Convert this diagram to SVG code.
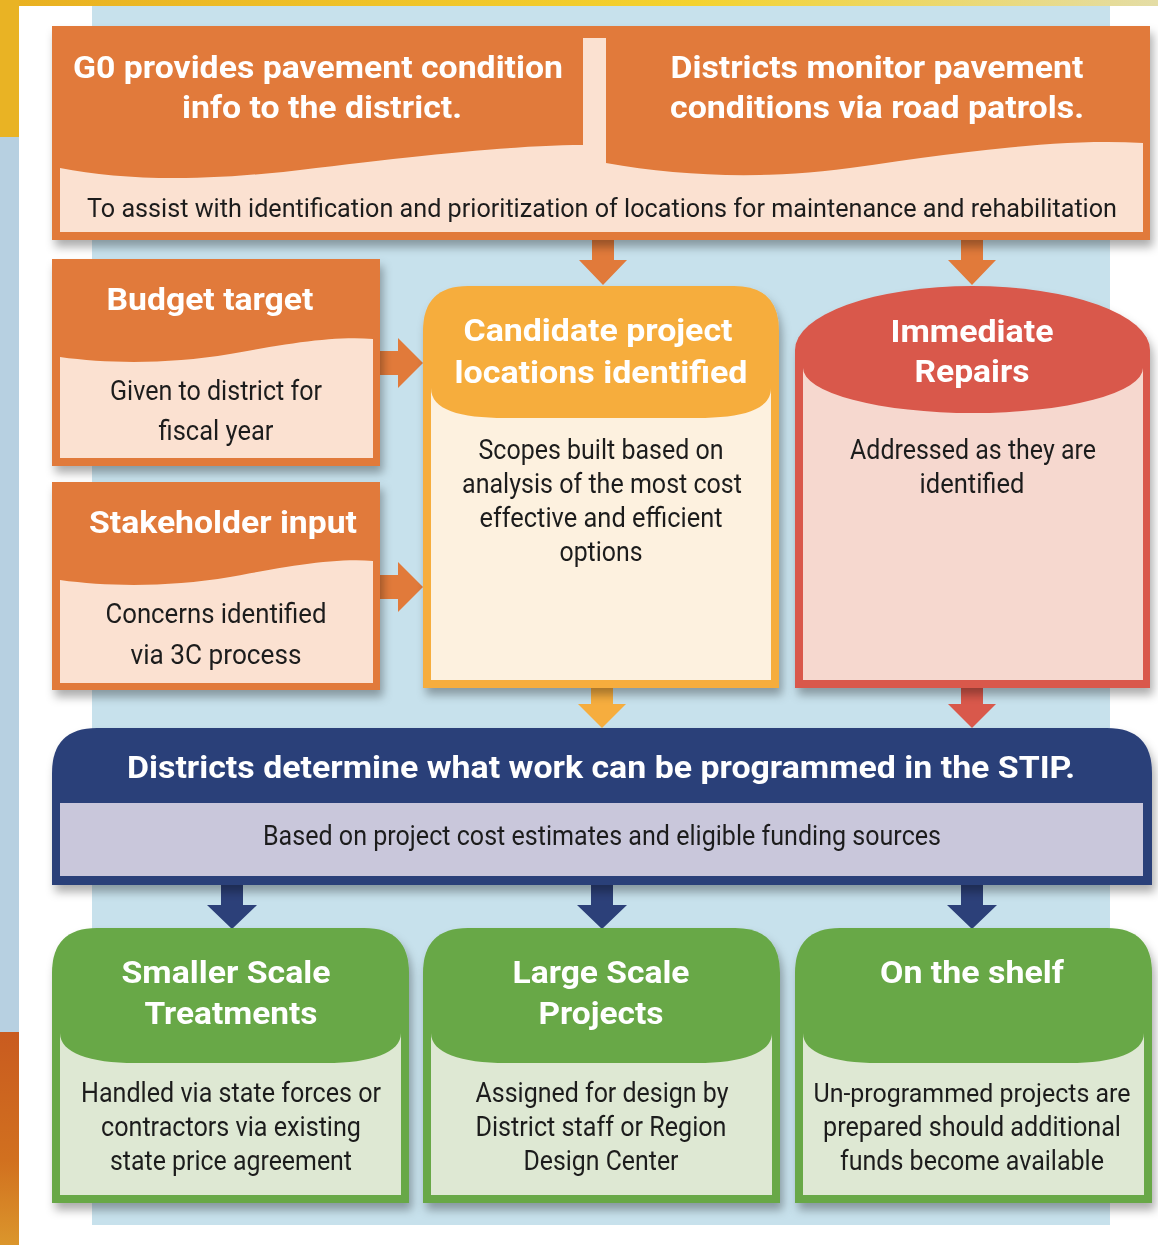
<svg xmlns="http://www.w3.org/2000/svg" width="1158" height="1245" viewBox="0 0 1158 1245">
<defs>
<linearGradient id="topband" x1="0" y1="0" x2="1" y2="0">
<stop offset="0" stop-color="#E9B021"/><stop offset="0.6" stop-color="#F4D22E"/><stop offset="1" stop-color="#E4DDA6"/>
</linearGradient>
<linearGradient id="orangeStrip" x1="0" y1="0" x2="0" y2="1">
<stop offset="0" stop-color="#C95B1F"/><stop offset="0.6" stop-color="#D1701F"/><stop offset="1" stop-color="#DB962C"/>
</linearGradient>
<filter id="sh" x="-10%" y="-10%" width="125%" height="130%">
<feDropShadow dx="3" dy="7" stdDeviation="5" flood-color="#000" flood-opacity="0.32"/>
</filter>
<style>
.ttl{font-family:Roboto,"Liberation Sans",sans-serif;font-weight:bold;font-size:31px;fill:#FFFFFF;text-anchor:middle}
.bd{font-family:Roboto,"Liberation Sans",sans-serif;font-size:27px;fill:#1E1E1E;text-anchor:middle}
.sm{font-size:25.5px}
.or{fill:#E17A3A}
.pe{fill:#FBE1D1}
.yo{fill:#F6AD3E}
.cr{fill:#FDF1DF}
.rd{fill:#D9584B}
.pk{fill:#F6D8CF}
.nv{fill:#2C4079}
.lv{fill:#C9C7DB}
.gr{fill:#68A846}
.lg{fill:#DEE8D3}
</style>
</defs>

<!-- background -->
<rect x="0" y="0" width="1158" height="1245" fill="#FFFFFF"/>
<rect x="0" y="0" width="1158" height="6" fill="url(#topband)"/>
<rect x="0" y="0" width="19" height="137" fill="#E9B324"/>
<rect x="0" y="137" width="19" height="895" fill="#B7D0E1"/>
<rect x="0" y="1032" width="19" height="213" fill="url(#orangeStrip)"/>
<rect x="92" y="6" width="1018" height="1219" fill="#C7E1EC"/>

<!-- connectors -->
<g id="connectors">
<polygon class="or" points="592,240 614,240 614,260 627,260 603,285 579,260 592,260"/>
<polygon class="or" points="961,240 983,240 983,260 996,260 972,285 948,260 961,260"/>
<polygon class="or" points="380,351 398,351 398,338 423,363 398,388 398,375 380,375"/>
<polygon class="or" points="380,575 398,575 398,562 423,587 398,612 398,599 380,599"/>
<polygon class="yo" points="591,688 613,688 613,704 626,704 602,728 578,704 591,704"/>
<polygon class="rd" points="961,688 983,688 983,704 996,704 972,728 948,704 961,704"/>
<polygon class="nv" points="221,885 243,885 243,905 257,905 232,929 207,905 221,905"/>
<polygon class="nv" points="591,885 613,885 613,905 627,905 602,929 577,905 591,905"/>
<polygon class="nv" points="961,885 983,885 983,905 997,905 972,929 947,905 961,905"/>
</g>

<!-- top box -->
<g id="top-box" filter="url(#sh)">
<rect class="or" x="52" y="26" width="1098" height="214"/>
<path class="pe" d="M60,168 C120,180 200,182 300,170 C420,155 520,145 583,145 L583,38 L606,38 L606,163 C680,176 760,180 850,168 C960,152 1060,138 1143,143 L1143,232 L60,232 Z"/>
<text class="ttl" x="318" y="78" textLength="490" lengthAdjust="spacingAndGlyphs">G0 provides pavement condition</text>
<text class="ttl" x="322" y="118" textLength="280" lengthAdjust="spacingAndGlyphs">info to the district.</text>
<text class="ttl" x="877" y="78" textLength="413" lengthAdjust="spacingAndGlyphs">Districts monitor pavement</text>
<text class="ttl" x="877" y="118" textLength="414" lengthAdjust="spacingAndGlyphs">conditions via road patrols.</text>
<text class="bd sm" x="602" y="217" textLength="1030" lengthAdjust="spacingAndGlyphs">To assist with identification and prioritization of locations for maintenance and rehabilitation</text>
</g>

<!-- budget target -->
<g id="budget-target" filter="url(#sh)">
<rect class="or" x="52" y="259" width="328" height="207"/>
<path class="pe" d="M60,357 C110,364 170,364 230,354 C290,343 335,336 373,339 L373,458 L60,458 Z"/>
<text class="ttl" x="210" y="310" textLength="207" lengthAdjust="spacingAndGlyphs">Budget target</text>
<text class="bd" x="216" y="400" textLength="212" lengthAdjust="spacingAndGlyphs">Given to district for</text>
<text class="bd" x="216" y="440" textLength="115" lengthAdjust="spacingAndGlyphs">fiscal year</text>
</g>

<!-- stakeholder input -->
<g id="stakeholder-input" filter="url(#sh)">
<rect class="or" x="52" y="482" width="328" height="208"/>
<path class="pe" d="M60,580 C110,587 170,587 230,577 C290,566 335,558 373,561 L373,683 L60,683 Z"/>
<text class="ttl" x="223" y="533" textLength="268" lengthAdjust="spacingAndGlyphs">Stakeholder input</text>
<text class="bd" x="216" y="623" textLength="221" lengthAdjust="spacingAndGlyphs">Concerns identified</text>
<text class="bd" x="216" y="664" textLength="171" lengthAdjust="spacingAndGlyphs">via 3C process</text>
</g>

<!-- candidate project locations -->
<g id="candidate-locations" filter="url(#sh)">
<path class="yo" d="M423,688 L423,331 Q423,286 468,286 L734,286 Q779,286 779,331 L779,688 Z"/>
<path class="cr" d="M431,680 L431,388 C431,410 460,418 505,418 L697,418 C742,418 771,410 771,388 L771,680 Z"/>
<text class="ttl" x="598" y="341" textLength="269" lengthAdjust="spacingAndGlyphs">Candidate project</text>
<text class="ttl" x="601" y="383" textLength="293" lengthAdjust="spacingAndGlyphs">locations identified</text>
<text class="bd" x="601" y="459" textLength="245" lengthAdjust="spacingAndGlyphs">Scopes built based on</text>
<text class="bd" x="602" y="493" textLength="280" lengthAdjust="spacingAndGlyphs">analysis of the most cost</text>
<text class="bd" x="601" y="527" textLength="243" lengthAdjust="spacingAndGlyphs">effective and efficient</text>
<text class="bd" x="601" y="561" textLength="83" lengthAdjust="spacingAndGlyphs">options</text>
</g>

<!-- immediate repairs -->
<g id="immediate-repairs" filter="url(#sh)">
<path class="rd" d="M795,688 L795,350 A177.5,64 0 0 1 1150,350 L1150,688 Z"/>
<path class="pk" d="M803,680 L803,368 A170,45 0 0 0 1143,368 L1143,680 Z"/>
<text class="ttl" x="972" y="342" textLength="163" lengthAdjust="spacingAndGlyphs">Immediate</text>
<text class="ttl" x="972" y="382" textLength="115" lengthAdjust="spacingAndGlyphs">Repairs</text>
<text class="bd" x="973" y="459" textLength="246" lengthAdjust="spacingAndGlyphs">Addressed as they are</text>
<text class="bd" x="972" y="493" textLength="105" lengthAdjust="spacingAndGlyphs">identified</text>
</g>

<!-- STIP -->
<g id="stip" filter="url(#sh)">
<path class="nv" d="M52,885 L52,773 Q52,728 97,728 L1107,728 Q1152,728 1152,773 L1152,885 Z"/>
<rect class="lv" x="60" y="803" width="1083" height="73"/>
<text class="ttl" x="601" y="778" textLength="948" lengthAdjust="spacingAndGlyphs">Districts determine what work can be programmed in the STIP.</text>
<text class="bd" x="602" y="845" textLength="678" lengthAdjust="spacingAndGlyphs">Based on project cost estimates and eligible funding sources</text>
</g>

<!-- smaller scale -->
<g id="smaller-scale" filter="url(#sh)">
<path class="gr" d="M52,1203 L52,973 Q52,928 97,928 L364,928 Q409,928 409,973 L409,1203 Z"/>
<path class="lg" d="M60,1195 L60,1033 C60,1053 90,1063 135,1063 L326,1063 C371,1063 401,1053 401,1033 L401,1195 Z"/>
<text class="ttl" x="226" y="983" textLength="209" lengthAdjust="spacingAndGlyphs">Smaller Scale</text>
<text class="ttl" x="231" y="1024" textLength="173" lengthAdjust="spacingAndGlyphs">Treatments</text>
<text class="bd" x="231" y="1102" textLength="300" lengthAdjust="spacingAndGlyphs">Handled via state forces or</text>
<text class="bd" x="231" y="1136" textLength="260" lengthAdjust="spacingAndGlyphs">contractors via existing</text>
<text class="bd" x="231" y="1170" textLength="242" lengthAdjust="spacingAndGlyphs">state price agreement</text>
</g>

<!-- large scale -->
<g id="large-scale" filter="url(#sh)">
<path class="gr" d="M423,1203 L423,973 Q423,928 468,928 L735,928 Q780,928 780,973 L780,1203 Z"/>
<path class="lg" d="M431,1195 L431,1033 C431,1053 461,1063 506,1063 L697,1063 C742,1063 772,1053 772,1033 L772,1195 Z"/>
<text class="ttl" x="601" y="983" textLength="177" lengthAdjust="spacingAndGlyphs">Large Scale</text>
<text class="ttl" x="601" y="1024" textLength="125" lengthAdjust="spacingAndGlyphs">Projects</text>
<text class="bd" x="602" y="1102" textLength="253" lengthAdjust="spacingAndGlyphs">Assigned for design by</text>
<text class="bd" x="601" y="1136" textLength="251" lengthAdjust="spacingAndGlyphs">District staff or Region</text>
<text class="bd" x="601" y="1170" textLength="155" lengthAdjust="spacingAndGlyphs">Design Center</text>
</g>

<!-- on the shelf -->
<g id="on-the-shelf" filter="url(#sh)">
<path class="gr" d="M795,1203 L795,973 Q795,928 840,928 L1107,928 Q1152,928 1152,973 L1152,1203 Z"/>
<path class="lg" d="M803,1195 L803,1033 C803,1053 833,1063 878,1063 L1069,1063 C1114,1063 1144,1053 1144,1033 L1144,1195 Z"/>
<text class="ttl" x="972" y="983" textLength="184" lengthAdjust="spacingAndGlyphs">On the shelf</text>
<text class="bd sm" x="972" y="1102" textLength="317" lengthAdjust="spacingAndGlyphs">Un-programmed projects are</text>
<text class="bd" x="972" y="1136" textLength="298" lengthAdjust="spacingAndGlyphs">prepared should additional</text>
<text class="bd" x="972" y="1170" textLength="264" lengthAdjust="spacingAndGlyphs">funds become available</text>
</g>
</svg>
